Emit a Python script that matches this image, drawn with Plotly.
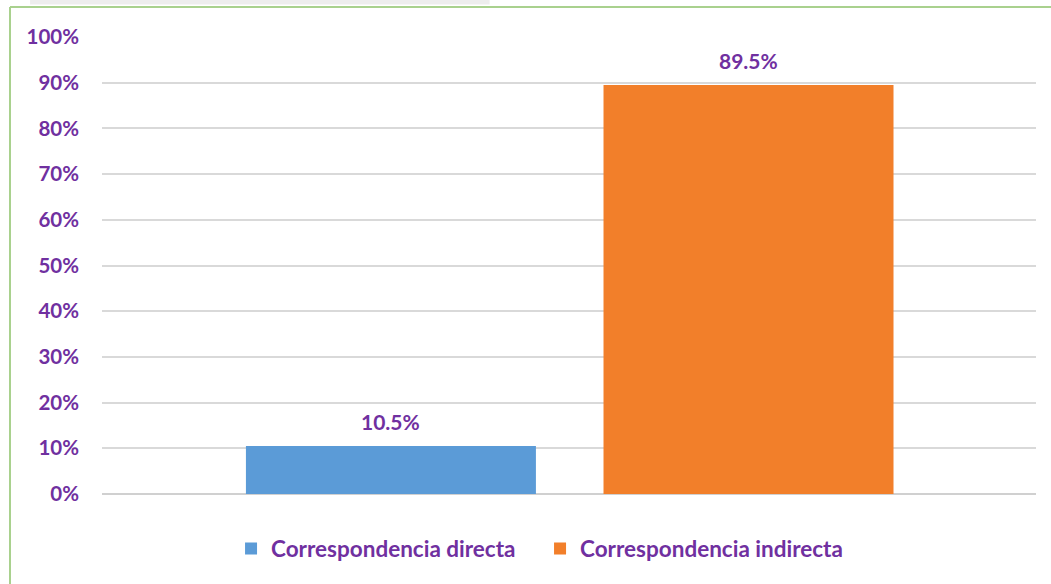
import plotly.graph_objects as go

categories = ["Correspondencia directa", "Correspondencia indirecta"]
values = [10.5, 89.5]
colors = ["#5b9bd7", "#f27f2a"]
tick_vals = [0, 10, 20, 30, 40, 50, 60, 70, 80, 90, 100]
tick_text = [f"{v}%" for v in tick_vals]

PURPLE = "#7030a0"
FONT = "Lato"

fig = go.Figure()
for cat, val, col in zip(categories, values, colors):
    fig.add_trace(go.Bar(
        x=[cat], y=[val], name=cat,
        marker=dict(color=col, line=dict(width=0)),
        width=0.811,
        hoverinfo="skip",
    ))
    fig.add_annotation(
        x=cat, y=val, text=f"{val:.1f}%", showarrow=False,
        yanchor="bottom", yshift=10,
        font=dict(family=FONT, size=21, color=PURPLE, weight="bold"),
    )

# green frame and top shadow
fig.add_shape(type="line", xref="paper", yref="paper",
              x0=-0.0985, x1=-0.0985, y0=1.0656, y1=-0.25,
              line=dict(color="#a9d18e", width=2))
fig.add_shape(type="line", xref="paper", yref="paper",
              x0=-0.0985, x1=1.1, y0=1.0656, y1=1.0656,
              line=dict(color="#a9d18e", width=2))
fig.add_shape(type="rect", xref="paper", yref="paper",
              x0=-0.077, x1=0.415, y0=1.071, y1=1.09,
              line=dict(width=0), fillcolor="#e6e6e6", opacity=0.7, layer="below")

fig.update_layout(
    width=1051, height=584,
    margin=dict(l=102, r=15, t=37, b=90),
    paper_bgcolor="white", plot_bgcolor="white",
    barmode="overlay",
    showlegend=True,
    legend=dict(orientation="h", x=0.469, xanchor="center", y=-0.12, yanchor="middle",
                font=dict(family=FONT, size=22.5, color=PURPLE, weight="bold"),
                traceorder="normal", entrywidth=264),
    xaxis=dict(range=[-0.808, 1.804], showticklabels=False, showgrid=False,
               zeroline=False, showline=False, fixedrange=True),
    yaxis=dict(range=[0, 100], tickvals=tick_vals, ticktext=tick_text,
               showgrid=True, gridcolor="#d9d9d9", gridwidth=2,
               zeroline=True, zerolinecolor="#d0d0d0", zerolinewidth=2,
               showline=False, ticks="", ticklabelstandoff=22,
               tickfont=dict(family=FONT, size=20.5, color=PURPLE, weight="bold")),
)

fig.write_html("out.html", post_script="document.body.style.margin='0';",
               config={"displayModeBar": False})
